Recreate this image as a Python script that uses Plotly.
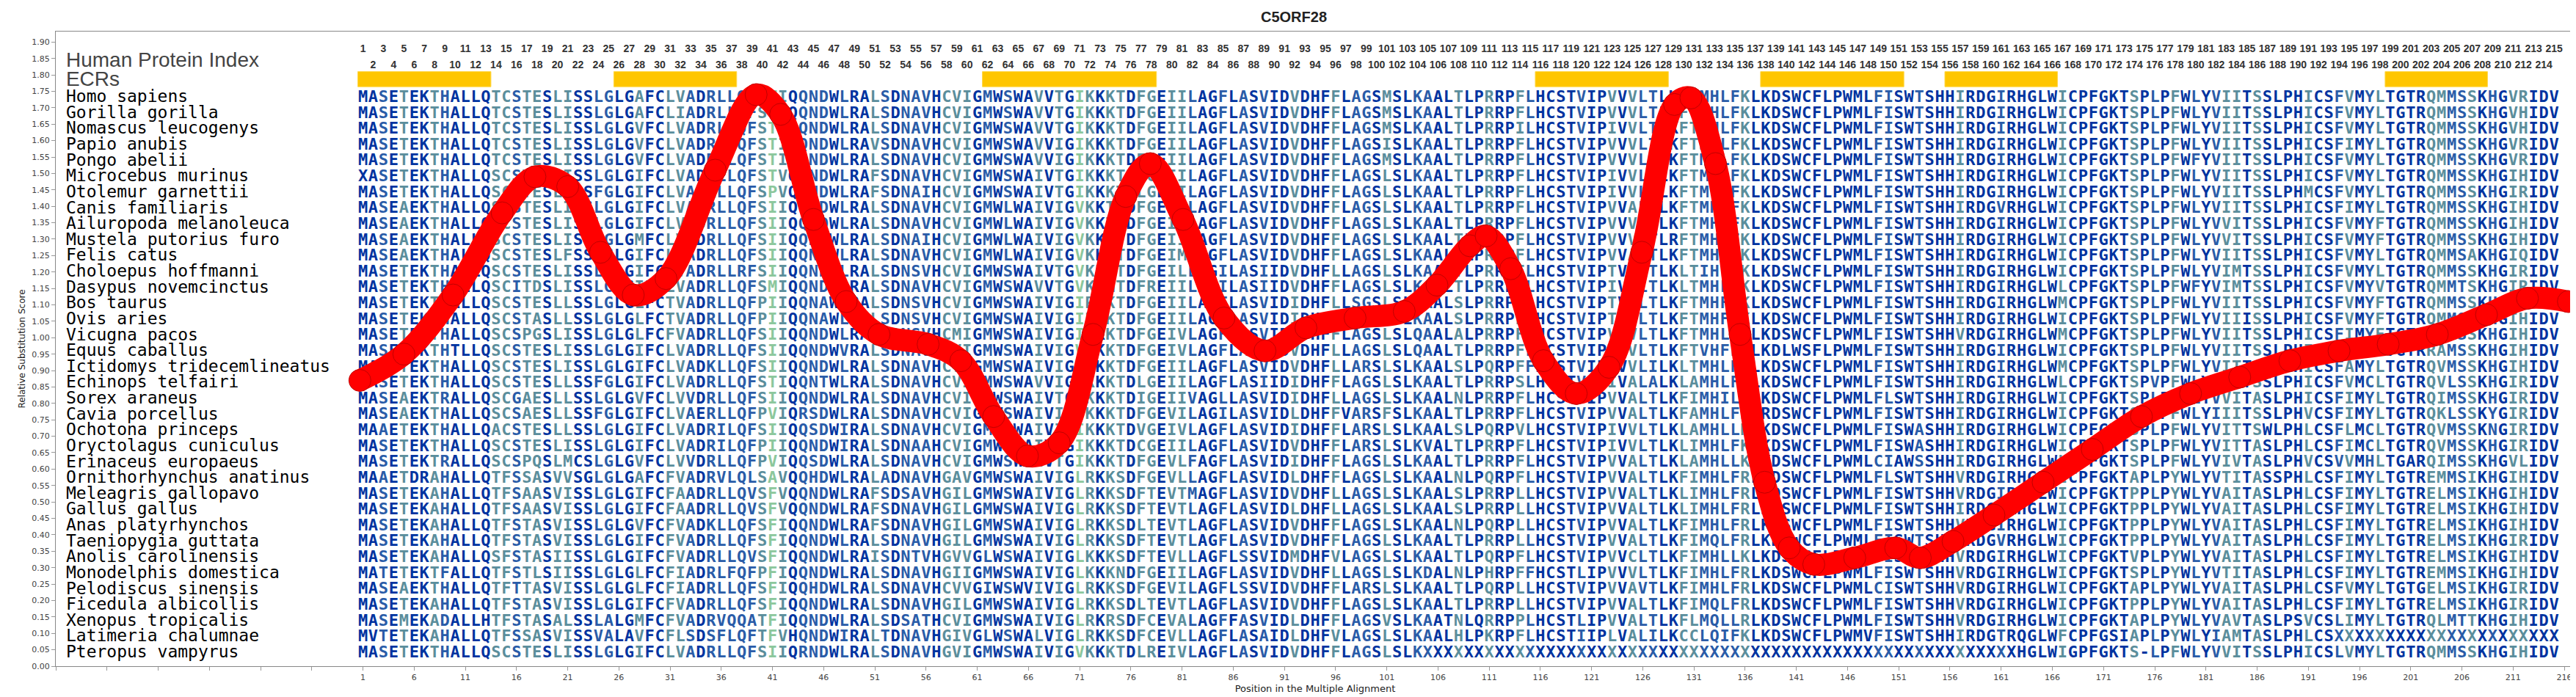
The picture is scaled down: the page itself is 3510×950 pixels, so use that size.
import plotly.graph_objects as go
from collections import Counter

species = ["Homo sapiens", "Gorilla gorilla", "Nomascus leucogenys", "Papio anubis", "Pongo abelii",
           "Microcebus murinus", "Otolemur garnettii", "Canis familiaris", "Ailuropoda melanoleuca",
           "Mustela putorius furo", "Felis catus", "Choloepus hoffmanni", "Dasypus novemcinctus",
           "Bos taurus", "Ovis aries", "Vicugna pacos", "Equus caballus", "Ictidomys tridecemlineatus",
           "Echinops telfairi", "Sorex araneus", "Cavia porcellus", "Ochotona princeps",
           "Oryctolagus cuniculus", "Erinaceus europaeus", "Ornithorhynchus anatinus",
           "Meleagris gallopavo", "Gallus gallus", "Anas platyrhynchos", "Taeniopygia guttata",
           "Anolis carolinensis", "Monodelphis domestica", "Pelodiscus sinensis", "Ficedula albicollis",
           "Xenopus tropicalis", "Latimeria chalumnae", "Pteropus vampyrus"]

# alignment positions 1-53
seg1 = ["MASETEKTHALLQTCSTESLISSLGLGAFCLVADRLLQFSTIQQNDWLRALSD",
        "MASETEKTHALLQTCSTESLISSLGLGAFCLIADRLLHFSTIQQNDWLRALSD",
        "MASETEKTHALLQTCSTESLISSLGLGVFCLVADRLLQFSTIQQNDWLRALSD",
        "MASETEKTHALLQTCSTESLISSLGLGVFCLVADRLLQFSTIQQNDWLRAVSD",
        "MASETEKTHALLQTCSTESLISSLGLGVFCLVADRLLQFSTIQQNDWLRALSD",
        "XASETEKTHALLQSCSTESLISSLGLGIFCLVADRLLQFSTVQQNDWLRAFSD",
        "MASETEKTHALLQSCSTESLISSFGLGIFCLVADRLLQFSPVQQNDWLRAFSD",
        "MASEAEKTHALLQSCSTESLISSLGLGIFCLVADRLLQFSIIQQNDWLRALSD",
        "MASEAEKTHALLQSCSTESLISSLGLGIFCLVADRLLQFSIIQQNDWLRALSD",
        "MASEAEKTHALLQSCSTESLISSLGLGMFCLVADRLLQFSIIQQNDWLRALSD",
        "MASEAEKTHALLQSCSTESLFSSLGLGIFCLVADRLLQFSIIQQNDWLRALSD",
        "MASETEKTHALLQSCSTESLISSLGLGIFCLVADRLLRFSIIQQNDWLRALSD",
        "MASETEKTHALLQSCITDSLISSLGLGIFCLVADRLLQFSMIQQNDWLRALSD",
        "MASETEKTHALLQSCSTESLLSSLGLGLFCTVADRLLQFPIIQQNAWLRALSD",
        "MASETEKTHALLQSCSTASLLSSLGLGLFCTVADRLLQFPIIQQNAWLRALSD",
        "MASETEKTHALLQSCSPGSLISSLGLGLFCFVADRLLQFSIIQQNDWLRALSD",
        "MASETEKTHTLLQSCSTESLISSLGLGIFCLVADRLLQFSIIQQNDWVRALSD",
        "MASETEKTHALLQSCSTESLISSLGLGIFCLVADKLLQFSIIQQNDWLRALSD",
        "MASETEKTHALLQSCSTESLLSSFGLGIFCLVADRLLQFSTIQQNTWLRALSD",
        "MASEAEKTRALLQSCGAESLLSSLGLGVFCLVVDRLLQFSIIQQNDWLRALSD",
        "MASEAEKTHALLQSCSAESLLSSFGLGIFCLVAERLLQFPVIQRSDWLRALSD",
        "MAAETEKTHALLQACSTESLLSSLGLGIFCLVADRILQFSIIQQSDWIRALSD",
        "MASETEKTHALLQSCSTESLISSLGLGIFCLVADRILQFPIIQQNDWIRALSD",
        "MASETEKTRALLQSCSPQSLMCSLGLGVFCLVVDRLLQFPVIQQSDWLRALSD",
        "MAAETDRAHALLQTFSSASVVSGLGLGAFCFVADRVLQLSAVQQHDWLRALAD",
        "MASETEKAHALLQTFSAASVISSLGLGIFCFAADRLLQVSFVQQNDWLRAFSD",
        "MASETEKAHALLQTFSAASVISSLGLGIFCFAADRLLQVSFVQQNDWLRAFSD",
        "MASETEKAHALLQTFSTASVISSLGLGVFCFVADKLLQFSFIQQNDWLRAFSD",
        "MASETEKAHALLQTFSTASVISSLGLGIFCFVADRLLQFSFIQQNDWLRALSD",
        "MASETEKAHALLQSFSTASIISSLGLGIFCFVADRLLQVSFIQQNDWLRAISD",
        "MATETEKTFALLQTFSTLSIISSLGLGLFCFIADRLFQFPFIQQNDWLRALSD",
        "MASEAEKTHALLQTFTTASVISSLGLGLFCFIADRLLQFSFIQQHDWLRALSD",
        "MASETEKAHALLQTFSTASVISSLGLGIFCFVADRLLQFSFIQQNDWLRALSD",
        "MASEMEKADALLHTFSTASALSSLALGMFCFVADRVQQATFIQQNDWLRALSD",
        "MVTETEKAHALLQTFSSASVISSVALAVFCFLSDSFLQFTFVHQNDWIRALTD",
        "MASETEKTHALLQSCSTESLISSLGLGIFCLVADRLLQFSIIQRNDWLRALSD"]

# positions 54-106
seg2 = ["NAVHCVIGMWSWAVVTGIKKKTDFGEIILAGFLASVIDVDHFFLAGSMSLKAA",
        "NAVHCVIGMWSWAVVTGIKKKTDFGEIILAGFLASVIDVDHFFLAGSMSLKAA",
        "NAVHCVIGMWSWAVVTGIKKKTDFGEIILAGFLASVIDVDHFFLAGSMSLKAA",
        "NAVHCVIGMWSWAVVIGIKKKTDFGEIILAGFLASVIDVDHFFLAGSISLKAA",
        "NAVHCVIGMWSWAVVIGIKKKTDFGEIILAGFLASVIDVDHFFLAGSMSLKAA",
        "NAVHCVIGMWSWAIVTGIKKKTDFGEIILAGFLASVIDVDHFFLAGSLSLKAA",
        "NAIHCVIGMWSWAIVTGIKKKTDLGEIILAGFLASVIDVDHFFLAGSLSLKAA",
        "NAVHCVIGMWLWAIVIGVKKTTDFGEIILAGFLASVIDVDHFFLAGSLSLKAA",
        "NAVHCVIGMWLWAIVIGVKKTNDFGEIILAGFLASVIDVDHFFLAGSLSLKAA",
        "NAIHCVIGMWLWAIVIGVKKTTDFGEIILAGFLASVIDVDHFFLAGSLSLKAA",
        "NAVHCVIGMWLWAIVIGVKKTTDFGEIMLAGFLASVIDVDHFFLAGSLSLKAA",
        "NSVHCVIGMWSWAIVTGVKKKTDFGEILLAGILASIIDVDHFLLAGSLSLKAA",
        "NAVHCVIGMWSWAVVTGVKKMTDFREIILAGILASIIDVDHFFLAGSLSLKAA",
        "NSVHCVIGMWSWAIVIGIRKKTDFGEIILAGFLASVIDIDHFLLSGSLSLKAA",
        "NSVHCVIGMWSWAIVIGIRKKTDFGEIILAGFLASVIDIDHFLLSGSMSLKAA",
        "NSVHCMIGMWSWAIVIGIKKKTDFGEIVLAGFLASVIDVDHFFLAGSLSLQAA",
        "NAVHCVIGMWSWAIVIGVKKKTDFGEIVLAGFLASVIDVDHFLLAGSLSLQAA",
        "NAVHCVIGMWSWAIVIGIKKKTDFGEIILAGFLASVIDVDHFLLARSLSLKAA",
        "NAVHCVIGMWSWAVVIGVKKKTDLGEIILAGFLASIIDIDHFFLAGSLSLKAA",
        "NAVHCVIGMWSWAIVTGIKKKTDIGEIIVAGLLASVIDIDHFLLAGSLSLKAA",
        "NAVHCVIGMWSWAIVIGVKKKTDFGEVILAGILASVIDLDHFFVARSFSLKAA",
        "NAVHCVIGMWSWAIVIGIKKKTDVGEIVLAGFLASVIDIDHFFLARSLSLKAA",
        "NAAHCVIGMWSWAIVIGIKKKTDCGEIILAGFLASVIDVDHFFLARSLSLKVA",
        "NAVHCVIGMWSWAIVTGIKKKTDFGEVLFAGFLASVIDIDHFFLAGSLSLKAA",
        "NAVHGAVGMWSWAIVIGLRKKSDFGEVLLAGFLASVIDLDHFFLAGSLSLKAA",
        "SAVHGILGMWSWAIVIGLRKKSDFTEVTMAGFLASVIDVDHFLLAGSLSLKAA",
        "NAVHGILGMWSWAIVIGLRKKSDFTEVTLAGFLASVIDLDHFLLAGSLSLKAA",
        "NAVHGILGMWSWAIVIGLRKKSDLTEVTLAGFLASVIDVDHFFLAGSLSLKAA",
        "NAVHGILGMWSWAIVIGLRKKSDFTEVTLAGFLASVIDVDHFFLAGSLSLKAA",
        "NTVHGVVGLWSWAIVIGLKKKSDFTEVLLAGFLSSVIDMDHFVLAGSLSLKAA",
        "NAVHGIIGMWSWAIVIGLKKKNDFGEIILAGFLASVIDVDHFLLAGSLSLKDA",
        "NAVHCVVGIWSWVIVIGLRKKSDFGEVILAGFLSSVIDVDHFFLARSLSLKAA",
        "NAVHGILGMWSWAIVIGLRKKSDLTEVTLAGFLASVIDVDHFFLAGSLSLKAA",
        "SATHCVIGMWSWAIVIGLRKRSDFCEVALAGFFASVIDLDHFFLAGSVSLKAA",
        "NAVHGIVGLWSWALVIGLRKKSDFCEVLLAGFLASAIDLDHFVLAGSLSLKAA",
        "NAVHGVIGMWSWAIVIGVKKKTDLREIVLAGFLASVIDVDHFFLAGSLSLKXX"]

# positions 107-159
seg3 = ["LTLPRRPFLHCSTVIPVVVLTLKFTMHLFKLKDSWCFLPWMLFISWTSHHIRD",
        "LTLPRRPFLHCSTVIPVVVLTLKFTMHLFKLKDSWCFLPWMLFISWTSHHIRD",
        "LTLPRRPILHCSTVIPIVVLTLKFTMHLFKLKDSWCFLPWMLFISWTSHHIRD",
        "LTLPRRPFLHCSTVIPVVVLTLKFTMHLFKLKDSWCFLPWMLFISWTSHHIRD",
        "LTLPRRPFLHCSTVIPVVVLTLKFTMHLFKLKDSWCFLPWMLFISWTSHHIRD",
        "LTLPRRPFLHCSTVIPIVVLTLKFTMHLFKLKDSWCFLPWMLFISWTSHHIRD",
        "LTLPRRPFLHCSTVIPIVVLSLKFTMYLFKLKDSWCFLPWMLFISWTSHHIRD",
        "LTLPRRPFLHCSTVIPVVALTLKFTMHLFKLKDSWCFLPWMLFISWTSHHIRD",
        "LTLPRRPFLHCSTVIPVVVVTLKFTMHLFKLKDSWCFLPWMLFISWTSHHIRD",
        "LTLPRRPFLHCSTVIPVVVLTLRFTMHLFKLKDSWCFLPWMLFISWTSHHIRD",
        "LTLPRRPFLHCSTVIPVVALTLKFTMHLFKLKDSWCFLPWMLFISWTSHHIRD",
        "LTLPRRPFLHCSTVIPTVVLTLKLTIHLFKLKDSWCFLPWMLFISWTSHHIRD",
        "LTLPRRPFLHCSTVIPIVVLTLKLTMHLFKLKDSWCFLPWMLFISWTSHHIRD",
        "LSLPRRPFLHCSTVIPTVVLTLKFTMHFFKLKDSWCFLPWMLFISWTSHHIRD",
        "LSLPRRPFLHCSTVIPTVVLTLKFTMHFFKLKDSWCFLPWMLFISWTSHHIRD",
        "LALPRRPFLHCSTVIPVVVLTLKFTMHLFKLKDSWCFLPWMLFISWTSHHVRD",
        "LTLPRRPFLHCSTVIPVVVLTLKFTVHFFKLKDLWSFLPWMLFISWTSHHIRD",
        "LSLPQRPFFHCSTVIPVVVLILKLTMHLFKLKDSWCFLPWMLFISWTSHHIRD",
        "LTLPRRPSLHCSTVIPIVALALKLAMHLFKLKDSWCFLPWMLFISWTSHHIRD",
        "LNLPRRPFLHCSTVIPVVALTLKFIMHILKLKDSWCFLPWMLFLSWTSHHIRD",
        "LTLPRRPFLHCSTVIPVVALTLKFAMHLFKLRDSWCFLPWMLFISWTSHHIRD",
        "LSLPQRPVLHCSTVIPIVVLTLKLAMHLLKLKDSWCFLPWMLFISWASHHIRD",
        "LTLPRRPFLHCSTVIPIVVLTLKLIMHLFKLKDSWCFLPWMLFISWASHHIRD",
        "LTLPRRPFLHCSTVIPVVALTLKLAMHLLKLKDSWCFLPWMLCIAWSSHHIRD",
        "LNLPQRPFLHCSTVIPVVALTLKFIMHLFRLKDSWCFLPWMLFLSWTSHHVRD",
        "LSLPRRPLLHCSTVIPVVALTLKLIMHLFRLKDSWCFLPWMLFISWTSHHVRD",
        "LSLPRRPLLHCSTVIPVVALTLKLIMHLFRLKDSWCFLPWMLFISWTSHHIRD",
        "LNLPQRPLLHCSTVIPVVALTLKFIMHLFRLKDSWCFLPWMLFISWTSHHVRD",
        "LTLPRRPLLHCSTVIPVVALTLKFIMQLFRLKDSWCFLPWMLFISWTSHHVRD",
        "LTLPQRPFLHCSTVIPVVCLTLKFIMHLLKLKDSWCFLPWMLFISWTSHHVRD",
        "LNLPHRPFFHCSTLIPVVVLTLKFIMHLFRLKDSWCFLPWMLFISWTSHHVRD",
        "LTLPQRPLLHCSTVIPVVAVTLKFIMHLFRLKDSWCFLPWMLCISWTSHHVRD",
        "LTLPRRPLLHCSTVIPVVALTLKFIMQLFRLKDSWCFLPWMLFISWTSHHVRD",
        "TNLQRRPPLHCSTLIPVVALTLKFLMQLLRLKDSWCFLPWMLFISWTSHHVRD",
        "LHLPKRPFLHCSTIIPLVALILKCCLQIFKLKDSWCFLPWMVFISWTSHHIRD",
        "XXXXXXXXXXXXXXXXXXXXXXXXXXXXXXXXXXXXXXXXXXXXXXXXXXXXX"]

# positions 160-215
seg4 = ["GIRHGLWICPFGKTSPLPFWLYVIITSSLPHICSFVMYLTGTRQMMSSKHGVRIDV",
        "GIRHGLWICPFGKTSPLPFWLYVIITSSLPHICSFVMYLTGTRQMMSSKHGVHIDV",
        "GIRHGLWICPFGKTSPLPFWLYVIITSSLPHICSFVMYLTGTRQMMSSKHGVHIDV",
        "GIRHGLWICPFGKTSPLPFWLYVIITSSLPHICSFIMYLTGTRQMMSSKHGVRIDV",
        "GIRHGLWICPFGKTSPLPFWFYVIITSSLPHICSFVMYLTGTRQMMSSKHGVRIDV",
        "GIRHGLWICPFGKTSPLPFWLYVIITSSLPHICSFVMYLTGTRQMMSSKHGIHIDV",
        "GIRHGLWICPFGKTSPLPFWLYVIITSSLPHMCSFVMYLTGTRQMMSSKHGIRIDV",
        "GVRHGLWICPFGKTSPLPFWLYVIITSSLPHICSFIMYLTGTRQMMSSKHGIHIDV",
        "GIRHGLWICPFGKTSPLPFWLYVVITSSLPHICSFVMYFTGTRQMMSSKHGIHIDV",
        "GIRHGLWICPFGKTSPLPFWLYVVITSSLPHICSFVMYFTGTRQMMSSKHGIHIDV",
        "GIRHGLWICPFGKTSPLPFWLYVIITSSLPHICSFVMYLTGTRQMMSAKHGIQIDV",
        "GIRHGLWICPFGKTSPLPFWLYVIMTSSLPHICSFVMYLTGTRQMMSSKHGIRIDV",
        "GIRHGLWLCPFGKTSPLPFWFYVIMTSSLPHICSFVMYVTGTRQMMTSKHGIRIDV",
        "GIRHGLWMCPFGKTSPLPFWLYVIITSSLPHICSFVMYFTGTRQMMSSKHGIHIDV",
        "GIRHGLWICPFGKTSPLPFWLYVIIISSLPHICSFVMYFTGTRQMMSSKHGIHIDV",
        "GIRHGLWMCPFGKTSPLPFWLYVIITSSLPHICSFIMYFTGTRQMMSSKHGIHIDV",
        "GIRHGLWICPFGKTSPLPFWLYVIITSSLPHICSFVMYLTGTRRAMSSKHGIHIDV",
        "GIRHGLWMCPFGKTSPLPFWLYVITTSSLPHICSFAMYLTGTRQVMSSKHGIHIDV",
        "GIRHGLWLCPFGKTSPVPFWLYVIITSSLPHICSFVMCLTGTRQVLSSKHGIRIDV",
        "GIRHGLWICPFGKTSPLPFWLYVVITASLPHICSFIMYLTGTRQIMSSKHGIRIDV",
        "GIRHGLWICPFGKTSPVPFWLYIIITSSLPHVCSFIMYLTGTRQKLSSKYGIRIDV",
        "GIRHGLWICPFGKTSPLPFWLYVITTSWLPHLCSFLMCLTGTRQVMSSKNGIRIDV",
        "GIRHGLWICPFGKTSPLPFWLYVITTASLPHLCSFIMCLTGTRQVMSSKHGIRIDV",
        "GIRHGLWLCPFGKTSPLPFWLYVIVTASLPHVCSVVMHLTGARQIMSSKHGVLIDV",
        "GIRHGLWICPFGKTAPLPYWLYVTITASSPHLCSFIMYLTGTREMMSIKHGIHIDV",
        "GIRHGLWICPFGKTPPLPYWLYVAITASLPHLCSFIMYLTGTRELMSIKHGIHIDV",
        "GIRHGLWICPFGKTPPLPYWLYVAITASLPHLCSFIMYLTGTRELMSIKHGIHIDV",
        "GIRHGLWICPFGKTPPLPYWLYVAITASLPHLCSFIMYLTGTRELMSIKHGIHIDV",
        "GVRHGLWICPFGKTPPLPYWLYVAITASLPHLCSFIMYLTGTRELMSIKHGIRIDV",
        "GIRHGLWICPFGKTVPLPYWLYVAITASLPHLCSFIMYLTGTRELMSIKHGIHIDV",
        "GIRHGLWICPFGKTSPLPYWLYVTITASLPHLCSFIMYLTGTREMMSIKHGIHIDV",
        "GIRHGLWICPFGKTAPLPYWLYVAITASLPHLCSFVMYLTGTGELMSIKHGIRIDV",
        "GIRHGLWICPFGKTPPLPYWLYVAITASLPHLCSFIMYLTGTRELMSIKHGIRIDV",
        "GIRHGLWICPFGKTAPLPYWLYVAVTASLPSVCSLIMYLTGTRQLMTTKHGIHIDV",
        "GTRQGLWFCPFGSIAPLPYWLYIAMTASLPHLCSXXXXXXXXXXXXXXXXXXXXXX",
        "XXXHGLWIGPFGKTS-LPFWLYVVITSSLPHICSLVMYLTGTRQMMSSKHGIHIDV"]

ecr_start = [1, 26, 62, 116, 138, 156, 199]
ecr_end = [13, 37, 78, 128, 151, 166, 208]

score_x = [0.7, 5, 9.8, 14.6, 17.8, 21, 24.2, 27.4, 30.6, 35.4, 39.4, 41.8, 45, 48.2, 51.4, 56.2,
           59.4, 62.6, 65.9, 69, 72.3, 75.5, 77.9, 81.1, 85.1, 89.1, 93.1, 97.9, 102.7, 105.9,
           109.1, 110.7, 113.1, 116.3, 119.5, 122.7, 125.9, 129.1, 130.7, 133.1, 135.5, 137.9,
           140.3, 142.7, 146.7, 150.7, 153.1, 156.3, 160.3, 165.1, 169.9, 174.7, 179.5, 184.3,
           189.2, 194, 198.8, 203.6, 208.4, 212.4, 216.4]
score_y = [0.87, 0.95, 1.13, 1.38, 1.49, 1.46, 1.26, 1.13, 1.18, 1.51, 1.74, 1.68, 1.36, 1.11, 1.01,
           0.98, 0.93, 0.76, 0.64, 0.68, 1.01, 1.43, 1.53, 1.36, 1.06, 0.96, 1.03, 1.06, 1.08, 1.16,
           1.28, 1.31, 1.21, 0.93, 0.83, 0.91, 1.26, 1.71, 1.73, 1.53, 1.01, 0.56, 0.36, 0.31, 0.33,
           0.36, 0.33, 0.38, 0.46, 0.56, 0.66, 0.76, 0.83, 0.88, 0.93, 0.96, 0.98, 1.01, 1.07, 1.12,
           1.11]

L = 215
seqs = []
for a, b, c, d in zip(seg1, seg2, seg3, seg4):
    seqs.append(a[:53].ljust(53, "-") + b[:53].ljust(53, "-") + c[:53].ljust(53, "-") + d[:56].ljust(56, "-"))

row_y = [1.73 - i * 0.0483 for i in range(len(species))]

# colour each column by how conserved it is
shades = ["#0033a0", "#2a5ca8", "#5b8e9c", "#8cc79c"]
col_shade = []
for j in range(L):
    res = [s[j] for s in seqs if s[j] not in "X-"]
    top = Counter(res).most_common(1)[0][1] / len(res) if res else 1
    if top >= 0.97:
        col_shade.append(0)
    elif top >= 0.85:
        col_shade.append(1)
    elif top >= 0.5:
        col_shade.append(2)
    else:
        col_shade.append(3)

fig = go.Figure()

for s0, s1 in zip(ecr_start, ecr_end):
    fig.add_shape(type="rect", x0=s0 - 0.5, x1=s1 + 0.5, y0=1.764, y1=1.81,
                  fillcolor="#ffc600", line=dict(color="#ffd84a", width=1), layer="below")

for lvl in range(4):
    xs, ys, ts = [], [], []
    for i, s in enumerate(seqs):
        for j, ch in enumerate(s):
            if col_shade[j] == lvl:
                xs.append(j + 1)
                ys.append(row_y[i])
                ts.append(ch)
    fig.add_trace(go.Scatter(x=xs, y=ys, text=ts, mode="text", hoverinfo="skip",
                             textfont=dict(family="DejaVu Sans Mono", size=22, color=shades[lvl],
                                           weight="bold")))

fig.add_trace(go.Scatter(x=[-28] * len(species), y=row_y, text=species, mode="text",
                         textposition="middle right", hoverinfo="skip",
                         textfont=dict(family="DejaVu Sans Mono", size=23, color="black")))

idx = list(range(1, L + 1))
fig.add_trace(go.Scatter(x=idx, y=[1.878 if i % 2 else 1.829 for i in idx], text=[str(i) for i in idx],
                         mode="text", hoverinfo="skip",
                         textfont=dict(family="Liberation Sans Narrow, Liberation Sans", size=14,
                                       color="#333333", weight="bold")))

fig.add_trace(go.Scatter(x=[-28, -28], y=[1.84, 1.783], text=["Human Protein Index", "ECRs"],
                         mode="text", textposition="middle right", hoverinfo="skip",
                         textfont=dict(family="Liberation Sans", size=28, color="#444444")))

fig.add_trace(go.Scatter(x=score_x, y=score_y, mode="lines+markers",
                         line=dict(color="red", width=30, shape="spline"),
                         marker=dict(color="red", size=30, line=dict(color="#c00000", width=1))))

xt = list(range(-29, 217, 5))
fig.update_layout(
    width=3510, height=950, showlegend=False,
    paper_bgcolor="white", plot_bgcolor="white",
    margin=dict(l=68, r=10, t=35, b=50),
    title=dict(text="<b>C5ORF28</b>", x=0.5, y=0.992, yanchor="top",
               font=dict(family="Liberation Sans", size=20, color="#222222")),
    xaxis=dict(range=[-29, 217], tickvals=xt, ticktext=[str(v) if v > 0 else "" for v in xt],
               ticks="outside", ticklen=5, tickcolor="#999999", showgrid=False, zeroline=False,
               showline=True, linecolor="#888888", mirror=True,
               tickfont=dict(family="DejaVu Sans", size=11, color="#444444"),
               title=dict(text="Position in the Multiple Alignment", standoff=4,
                          font=dict(family="DejaVu Sans", size=13, color="#222222"))),
    yaxis=dict(range=[0, 1.932], tickvals=[i * 0.05 for i in range(39)], tickformat=".2f",
               ticks="outside", ticklen=5, tickcolor="#999999", showgrid=False, zeroline=False,
               showline=True, linecolor="#888888", mirror=True,
               tickfont=dict(family="DejaVu Sans", size=11, color="#444444"),
               title=dict(text="Relative Substitution Score", standoff=6,
                          font=dict(family="DejaVu Sans", size=12, color="#222222"))),
)

fig.write_html("out.html")
